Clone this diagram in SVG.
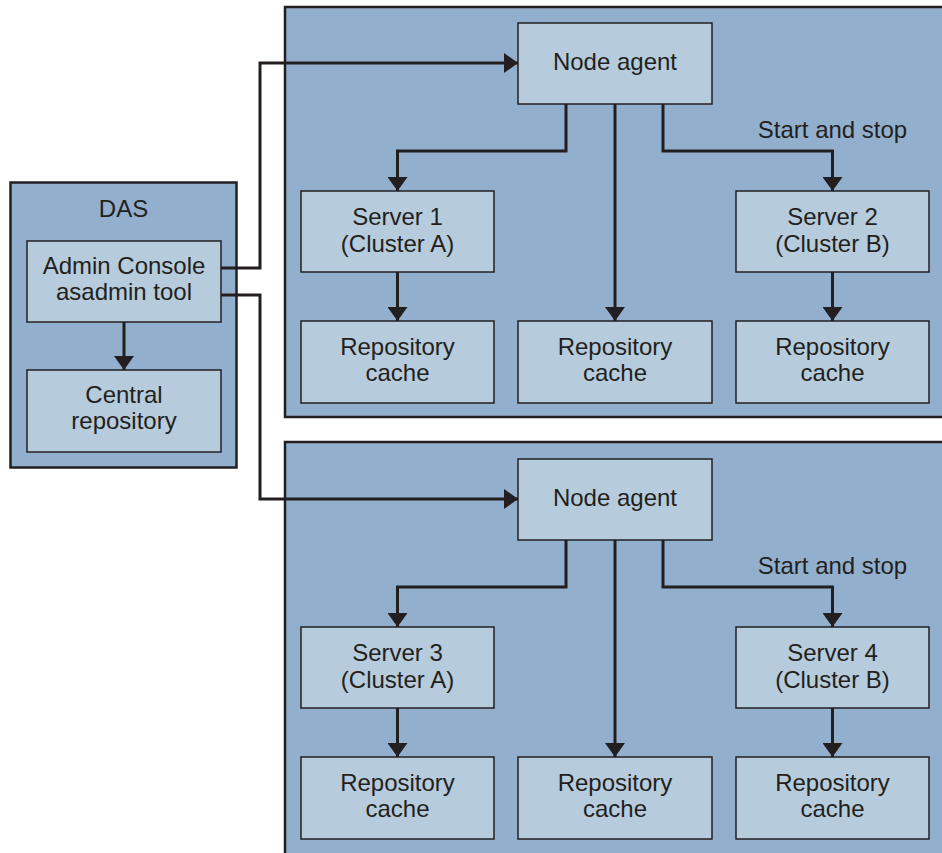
<svg xmlns="http://www.w3.org/2000/svg" width="942" height="853" viewBox="0 0 942 853">
<style>
.panel{fill:#92afce;stroke:#231f20;stroke-width:2.5}
.box{fill:#b6ccdc;stroke:#231f20;stroke-width:1.5}
text{font-family:"Liberation Sans",Arial,sans-serif;font-size:24px;fill:#231f20;text-anchor:middle}
.conn{fill:none;stroke:#231f20;stroke-width:3;marker-end:url(#ah)}
</style>
<defs>
<marker id="ah" markerUnits="userSpaceOnUse" viewBox="0 0 14 20" markerWidth="14" markerHeight="20" refX="14" refY="10" orient="auto">
<path d="M0,0 L14,10 L0,20 z" fill="#231f20"/>
</marker>
</defs>
<rect width="942" height="853" fill="#fff"/>
<g id="panel-top"><rect class="panel" x="285" y="7" width="670" height="410"/></g>
<g id="panel-bottom"><rect class="panel" x="285" y="442" width="670" height="430"/></g>
<g id="das"><rect class="panel" x="10.5" y="182.5" width="226" height="285"/><text x="123.5" y="217">DAS</text></g>
<g id="admin"><rect class="box" x="27" y="241" width="194" height="81"/><text x="124" y="274">Admin Console</text><text x="124" y="300">asadmin tool</text></g>
<g id="central"><rect class="box" x="27" y="370" width="194" height="82"/><text x="124" y="403">Central</text><text x="124" y="429">repository</text></g>

<g id="node-agent-1"><rect class="box" x="518" y="23" width="194" height="81"/><text x="615" y="70">Node agent</text></g>
<g id="server-1"><rect class="box" x="301" y="191" width="193" height="81"/><text x="397.5" y="225">Server 1</text><text x="397.5" y="252">(Cluster A)</text></g>
<g id="server-2"><rect class="box" x="736" y="191" width="193" height="81"/><text x="832.5" y="225">Server 2</text><text x="832.5" y="252">(Cluster B)</text></g>
<g id="cache-1a"><rect class="box" x="301" y="321" width="193" height="82"/><text x="397.5" y="355">Repository</text><text x="397.5" y="381">cache</text></g>
<g id="cache-1b"><rect class="box" x="518" y="321" width="194" height="82"/><text x="615" y="355">Repository</text><text x="615" y="381">cache</text></g>
<g id="cache-1c"><rect class="box" x="736" y="321" width="193" height="82"/><text x="832.5" y="355">Repository</text><text x="832.5" y="381">cache</text></g>

<g id="node-agent-2"><rect class="box" x="518" y="459" width="194" height="81"/><text x="615" y="506">Node agent</text></g>
<g id="server-3"><rect class="box" x="301" y="627" width="193" height="81"/><text x="397.5" y="661">Server 3</text><text x="397.5" y="688">(Cluster A)</text></g>
<g id="server-4"><rect class="box" x="736" y="627" width="193" height="81"/><text x="832.5" y="661">Server 4</text><text x="832.5" y="688">(Cluster B)</text></g>
<g id="cache-2a"><rect class="box" x="301" y="757" width="193" height="82"/><text x="397.5" y="791">Repository</text><text x="397.5" y="817">cache</text></g>
<g id="cache-2b"><rect class="box" x="518" y="757" width="194" height="82"/><text x="615" y="791">Repository</text><text x="615" y="817">cache</text></g>
<g id="cache-2c"><rect class="box" x="736" y="757" width="193" height="82"/><text x="832.5" y="791">Repository</text><text x="832.5" y="817">cache</text></g>

<g id="connectors">
<path class="conn" d="M124,322 V370"/>
<path class="conn" d="M221,268 H260 V63 H518"/>
<path class="conn" d="M221,295 H260 V499 H518"/>

<path class="conn" d="M566,104 V151 H397.5 V191"/>
<path class="conn" d="M615,104 V321"/>
<path class="conn" d="M663,104 V151 H832.5 V191"/>
<path class="conn" d="M397.5,272 V321"/>
<path class="conn" d="M832.5,272 V321"/>
<text x="832.5" y="138">Start and stop</text>

<path class="conn" d="M566,540 V587 H397.5 V627"/>
<path class="conn" d="M615,540 V757"/>
<path class="conn" d="M663,540 V587 H832.5 V627"/>
<path class="conn" d="M397.5,708 V757"/>
<path class="conn" d="M832.5,708 V757"/>
<text x="832.5" y="574">Start and stop</text>
</g>
</svg>
